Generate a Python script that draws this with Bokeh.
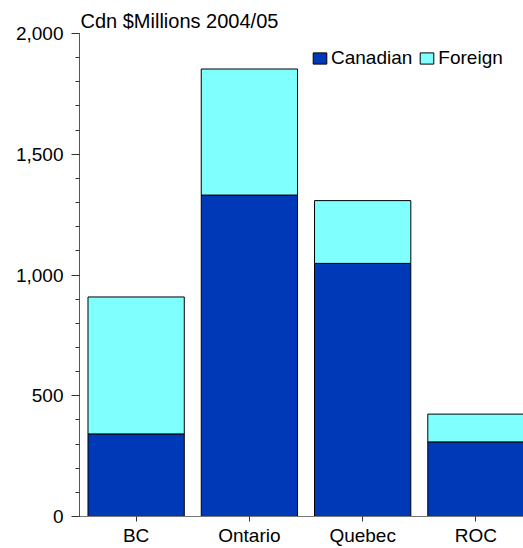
from bokeh.plotting import figure
from bokeh.models import ColumnDataSource, FixedTicker, SingleIntervalTicker, NumeralTickFormatter, Range1d
from bokeh.embed import file_html
from bokeh.resources import INLINE

regions = ["BC", "Ontario", "Quebec", "ROC"]
canadian = [342, 1331, 1048, 309]
foreign = [567, 522, 260, 115]
series = ["Canadian", "Foreign"]
colors = ["#0039B8", "#80FFFF"]
y_ticks_interval = 500

xpos = [i + 0.5 for i in range(len(regions))]
src = ColumnDataSource(dict(x=xpos, Canadian=canadian, Foreign=foreign))

FONT = "Liberation Sans"

p = figure(width=523, height=548, output_backend="svg", toolbar_location=None,
           x_range=Range1d(0, 3.92), y_range=Range1d(0, 2000),
           min_border_left=79, min_border_right=0, min_border_top=33, min_border_bottom=32,
           title="Cdn $Millions 2004/05")
p.xgrid.visible = False
p.ygrid.visible = False
p.outline_line_color = None

p.title.text_font = FONT
p.title.text_font_size = "20px"
p.title.text_font_style = "normal"
p.title.text_color = "black"
p.title.align = "left"
p.title.offset = 1
p.title.standoff = 3

p.vbar_stack(series, x="x", width=0.85, source=src, color=colors,
             line_color="black", line_width=1, legend_label=series)

# y axis
p.yaxis.ticker = SingleIntervalTicker(interval=y_ticks_interval, num_minor_ticks=5)
p.yaxis.formatter = NumeralTickFormatter(format="0,0")
p.yaxis.axis_line_color = "#555555"
p.yaxis.major_tick_line_color = "#333333"
p.yaxis.minor_tick_line_color = "#333333"
p.yaxis.major_tick_in = 0
p.yaxis.major_tick_out = 8
p.yaxis.minor_tick_in = 0
p.yaxis.minor_tick_out = 4
p.yaxis.major_label_standoff = 8
p.yaxis.major_label_text_font = FONT
p.yaxis.major_label_text_font_size = "19px"
p.yaxis.major_label_text_color = "black"

# x axis
p.xaxis.ticker = FixedTicker(ticks=xpos)
p.xaxis.major_label_overrides = {x: r for x, r in zip(xpos, regions)}
p.xaxis.axis_line_color = "#777777"
p.xaxis.major_tick_line_color = "#333333"
p.xaxis.minor_tick_line_color = None
p.xaxis.major_tick_in = 0
p.xaxis.major_tick_out = 5
p.xaxis.major_label_standoff = 3
p.xaxis.major_label_text_font = FONT
p.xaxis.major_label_text_font_size = "19px"
p.xaxis.major_label_text_color = "black"

lg = p.legend[0]
lg.orientation = "horizontal"
lg.location = (232, 447)
lg.border_line_color = None
lg.background_fill_alpha = 0
lg.padding = 0
lg.margin = 0
lg.spacing = 6
lg.label_standoff = 3
lg.glyph_width = 17
lg.glyph_height = 14
lg.label_text_font = FONT
lg.label_text_font_size = "19px"
lg.label_text_color = "black"

open("out.html", "w").write(file_html(p, INLINE))
